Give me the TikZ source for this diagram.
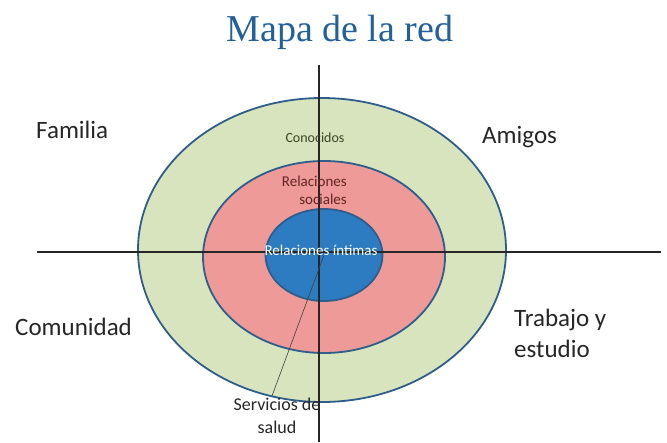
\documentclass[tikz,border=0pt]{standalone}
\usepackage{fontspec}
\setmainfont{Carlito}
\newfontfamily\titlefont{Liberation Serif}
\usetikzlibrary{shapes,positioning,calc}
\definecolor{ringgreen}{HTML}{D7E4BD}
\definecolor{ringred}{HTML}{EE9A98}
\definecolor{ringblue}{HTML}{2D7BC0}
\definecolor{ringline}{HTML}{2F5E8C}
\definecolor{titleblue}{HTML}{21609B}
\definecolor{sociales}{HTML}{632523}
\definecolor{conocidos}{HTML}{3A4526}
\begin{document}
\begin{tikzpicture}
[x=1pt,y=-1pt,
ring/.style={shape=ellipse,draw=ringline,line width=1.8pt,inner sep=0pt},
axis/.style={line width=1.4pt,black!85},
conn/.style={line width=.6pt,black!75},
lab/.style={font=\fontsize{25}{31}\selectfont,text=black!85,inner sep=0pt,align=left},
small/.style={font=\fontsize{15}{18}\selectfont,inner sep=0pt,align=center}]
\useasboundingbox (0,0) rectangle (667,442);
%%%%%%%%%%
%% title
\node (title) [anchor=base,inner sep=0pt,text=titleblue,font=\titlefont\fontsize{38}{44}\selectfont] at (340,41) {Mapa de la red};
%% rings
\node (outer) [ring,fill=ringgreen,minimum width=368,minimum height=304] at (322,250) {};
\node (middle) [ring,fill=ringred,minimum width=242,minimum height=192] at (324,257) {};
\node (inner) [ring,fill=ringblue,minimum width=117,minimum height=92] at (324,255) {};
%% axes
\coordinate (vtop) at (319,65);
\coordinate (vbot) at (319,442);
\coordinate (hleft) at (37,252);
\coordinate (hright) at (661,252);
\draw[axis] (vtop) -- (vbot);
\draw[axis] (hleft) -- (hright);
%% quadrant labels
\node (familia) [lab,anchor=base west] at (36,138) {Familia};
\node (amigos) [lab,anchor=base west] at (482,143) {Amigos};
\node (comunidad) [lab,anchor=base west] at (15,335) {Comunidad};
\node (trabajo) [lab,anchor=north west] at (514,309) {Trabajo y\\estudio};
%% ring labels
\node (conoc) [small,anchor=base,text=conocidos,font=\fontsize{14}{17}\selectfont] at (315,142) {Conocidos};
\node (relsoc) [small,anchor=east,align=right,text=sociales] at (347,190) {Relaciones\\sociales};
\node (relint) [small,anchor=base,text=white] at (321,255) {Relaciones íntimas};
\node (serv) [small,anchor=north,text=black!85,font=\fontsize{18}{23}\selectfont] at (277,398) {Servicios de\\salud};
%% connector
\coordinate (servtip) at (272,396);
\draw[conn] (servtip) -- (inner.center);
\end{tikzpicture}
\end{document}
